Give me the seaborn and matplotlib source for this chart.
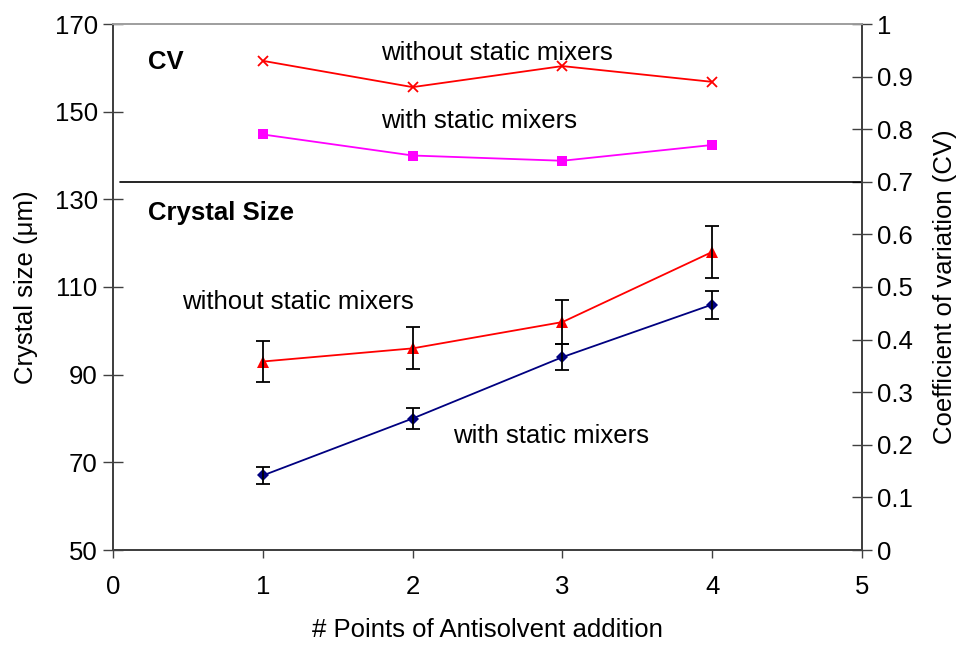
import matplotlib
matplotlib.use("Agg")
import matplotlib.pyplot as plt
import seaborn as sns
import pandas as pd
import numpy as np

# ---- data ----
points = [1, 2, 3, 4]
size_with = [67, 80, 94, 106]
size_with_err = [2.0, 2.4, 2.9, 3.2]
size_without = [93, 96, 102, 118]
size_without_err = [4.6, 4.8, 5.1, 6.0]
cv_without = [0.93, 0.88, 0.92, 0.89]
cv_with = [0.79, 0.75, 0.74, 0.77]

sns.set_style("white")
plt.rcParams['font.family'] = ['Liberation Sans', 'DejaVu Sans']
plt.rcParams['text.color'] = 'black'
plt.rcParams['axes.labelcolor'] = 'black'
FS = 18.5

fig, ax = plt.subplots(figsize=(9.61, 6.45), dpi=100)
fig.subplots_adjust(left=113/961, right=862/961, top=1-24/645, bottom=1-550/645)
ax2 = ax.twinx()

df_size = pd.DataFrame({
    "points": points * 2,
    "size": size_without + size_with,
    "err": size_without_err + size_with_err,
    "series": ["without"] * 4 + ["with"] * 4,
})
df_cv_without = pd.DataFrame({"points": points, "cv": cv_without})
df_cv_with = pd.DataFrame({"points": points, "cv": cv_with})

# error bars
for s in ["without", "with"]:
    d = df_size[df_size.series == s]
    ax.errorbar(d.points, d["size"], yerr=d.err, fmt='none', ecolor='black',
                elinewidth=1.3, capsize=5, capthick=1.3, zorder=3)

sns.lineplot(data=df_size[df_size.series == "without"], x="points", y="size",
             color="#FF0000", marker="^", markersize=8, markeredgewidth=0,
             linewidth=1.3, legend=False, ax=ax, zorder=2)
sns.lineplot(data=df_size[df_size.series == "with"], x="points", y="size",
             color="#000080", marker="D", markersize=6, markeredgewidth=0,
             linewidth=1.3, legend=False, ax=ax, zorder=2)

sns.lineplot(data=df_cv_without, x="points", y="cv", color="#FF0000", marker="x",
             markersize=7, markeredgewidth=1.3, markeredgecolor="#FF0000",
             linewidth=1.3, legend=False, ax=ax2)
sns.lineplot(data=df_cv_with, x="points", y="cv", color="#FF00FF", marker="s",
             markersize=7, markeredgewidth=0,
             linewidth=1.3, legend=False, ax=ax2)

# separator line at CV = 0.7
ax2.plot([0.047, 5], [0.7, 0.7], color='black', lw=1.2, zorder=1)

ax.set_xlim(0, 5)
ax.set_ylim(50, 170)
ax2.set_ylim(0, 1)
ax.set_xticks([0, 1, 2, 3, 4, 5])
ax.set_yticks([50, 70, 90, 110, 130, 150, 170])
ax2.set_yticks([0, 0.1, 0.2, 0.3, 0.4, 0.5, 0.6, 0.7, 0.8, 0.9, 1.0])
ax2.set_yticklabels(['0', '0.1', '0.2', '0.3', '0.4', '0.5', '0.6', '0.7', '0.8', '0.9', '1'])

ax.set_xlabel("# Points of Antisolvent addition", fontsize=FS, labelpad=14, color='black')
ax.set_ylabel("Crystal size (μm)", fontsize=FS, labelpad=12, color='black')
ax2.set_ylabel("Coefficient of variation (CV)", fontsize=FS, labelpad=14, color='black')

ax.tick_params(axis='x', direction='out', length=6, width=1, colors='#404040',
               labelsize=FS, labelcolor='black', pad=12, bottom=True)
ax.tick_params(axis='y', direction='inout', length=14, width=1, colors='#404040',
               labelsize=FS, labelcolor='black', pad=4, left=True)
ax2.tick_params(axis='y', direction='inout', length=14, width=1, colors='#404040',
                labelsize=FS, labelcolor='black', pad=4, right=True)

for a in (ax, ax2):
    for side in ['left', 'right', 'bottom']:
        a.spines[side].set_color('#404040')
        a.spines[side].set_linewidth(1.3)
    a.spines['top'].set_color('#A0A0A0')
    a.spines['top'].set_linewidth(1.3)
    a.grid(False)

# annotations
ax.text(0.234, 159.7, "CV", fontsize=FS, fontweight='bold', ha='left', va='baseline')
ax.text(0.234, 125.3, "Crystal Size", fontsize=FS, fontweight='bold', ha='left', va='baseline')
ax.text(1.79, 161.8, "without static mixers", fontsize=FS, ha='left', va='baseline')
ax.text(1.79, 146.2, "with static mixers", fontsize=FS, ha='left', va='baseline')
ax.text(0.461, 104.9, "without static mixers", fontsize=FS, ha='left', va='baseline')
ax.text(2.27, 74.3, "with static mixers", fontsize=FS, ha='left', va='baseline')

fig.savefig("out.png", dpi=100)
